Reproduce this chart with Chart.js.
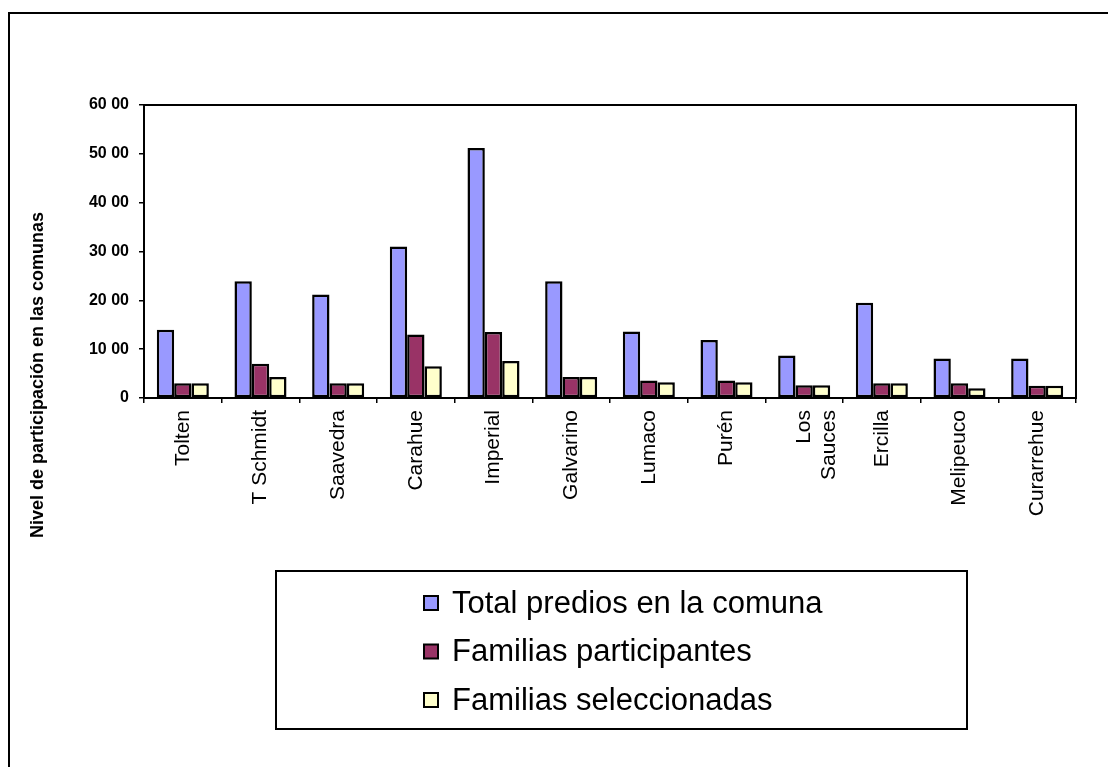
<!DOCTYPE html>
<html>
<head>
<meta charset="utf-8">
<script src="https://cdn.jsdelivr.net/npm/chart.js@4/dist/chart.umd.min.js"></script>
<style>
  html, body { margin: 0; padding: 0; background: #fff; }
  canvas { display: block; }
</style>
</head>
<body>
<canvas id="c" width="1108" height="767"></canvas>
<script>
const categories = ['Tolten', 'T Schmidt', 'Saavedra', 'Carahue', 'Imperial', 'Galvarino', 'Lumaco', 'Purén', ['Los', 'Sauces'], 'Ercilla', 'Melipeuco', 'Curarrehue'];
const seriesNames = ['Total predios en la comuna', 'Familias participantes', 'Familias seleccionadas'];
const totalPredios = [1400, 2390, 2120, 3100, 5120, 2390, 1360, 1190, 870, 1950, 810, 810];
const familiasParticipantes = [300, 700, 300, 1300, 1350, 430, 360, 360, 260, 300, 300, 250];
const familiasSeleccionadas = [300, 430, 300, 650, 760, 430, 320, 320, 260, 300, 200, 250];
const yTickLabels = ['0', '10 00', '20 00', '30 00', '40 00', '50 00', '60 00'];
const yTitle = 'Nivel de participación en las comunas';

const colors = ['#9999FF', '#993366', '#FFFFCC'];
const FONT = "'Liberation Sans', Arial, sans-serif";

const framePlugin = {
  id: 'frame',
  beforeDraw(chart) {
    const ctx = chart.ctx;
    ctx.save();
    ctx.fillStyle = '#fff';
    ctx.fillRect(0, 0, chart.width, chart.height);
    ctx.strokeStyle = '#000';
    ctx.lineWidth = 2;
    ctx.beginPath();
    ctx.moveTo(9, chart.height + 2);
    ctx.lineTo(9, 13);
    ctx.lineTo(chart.width + 2, 13);
    ctx.stroke();
    ctx.restore();
  },
  beforeDatasetsDraw(chart) {
    const a = chart.chartArea;
    const ctx = chart.ctx;
    ctx.save();
    ctx.strokeStyle = '#000';
    ctx.lineWidth = 2;
    ctx.strokeRect(a.left, a.top, a.right - a.left, a.bottom - a.top);
    ctx.restore();
  },
  afterDraw(chart) {
    const ctx = chart.ctx;
    ctx.save();
    // y axis title
    ctx.translate(38, 375);
    ctx.rotate(-Math.PI / 2);
    ctx.font = 'bold 18px ' + FONT;
    ctx.fillStyle = '#000';
    ctx.textAlign = 'center';
    ctx.textBaseline = 'middle';
    ctx.fillText(yTitle, 0, 0);
    ctx.restore();

    // legend box
    ctx.save();
    const bx = 276, by = 571, bw = 691, bh = 158;
    ctx.fillStyle = '#fff';
    ctx.fillRect(bx, by, bw, bh);
    ctx.strokeStyle = '#000';
    ctx.lineWidth = 2;
    ctx.strokeRect(bx, by, bw, bh);
    ctx.font = '31px ' + FONT;
    ctx.textBaseline = 'middle';
    ctx.textAlign = 'left';
    chart.data.datasets.forEach((ds, i) => {
      const cy = 603 + i * 48.5;
      ctx.fillStyle = ds.backgroundColor;
      ctx.fillRect(424, cy - 7, 14, 14);
      ctx.lineWidth = 2;
      ctx.strokeStyle = '#000';
      ctx.strokeRect(424, cy - 7, 14, 14);
      ctx.fillStyle = '#000';
      ctx.fillText(ds.label, 452, cy + 1);
    });
    ctx.restore();
  }
};

new Chart(document.getElementById('c'), {
  type: 'bar',
  data: {
    labels: categories,
    datasets: [
      { label: seriesNames[0], data: totalPredios, backgroundColor: colors[0] },
      { label: seriesNames[1], data: familiasParticipantes, backgroundColor: colors[1] },
      { label: seriesNames[2], data: familiasSeleccionadas, backgroundColor: colors[2] }
    ].map(d => Object.assign(d, {
      borderColor: '#000',
      borderWidth: 2.5,
      borderSkipped: false,
      categoryPercentage: 0.67,
      barPercentage: 1.0
    }))
  },
  options: {
    responsive: false,
    devicePixelRatio: 1,
    animation: false,
    layout: { padding: { top: 105, right: 32, left: 0, bottom: 0 } },
    plugins: {
      legend: { display: false },
      tooltip: { enabled: false },
      title: { display: false }
    },
    scales: {
      x: {
        offset: true,
        grid: { offset: true, drawOnChartArea: false, drawTicks: true, tickLength: 5, color: '#000', lineWidth: 1.5 },
        border: { display: true, color: '#000', width: 2 },
        ticks: {
          color: '#000',
          font: { family: FONT, size: 21 },
          minRotation: 90,
          maxRotation: 90,
          padding: 7,
          autoSkip: false
        },
        afterFit(scale) { scale.height = 369; }
      },
      y: {
        min: 0,
        max: 6000,
        grid: { drawOnChartArea: false, drawTicks: true, tickLength: 5, color: '#000', lineWidth: 1.5 },
        border: { display: true, color: '#000', width: 2 },
        ticks: {
          stepSize: 1000,
          color: '#000',
          padding: 10,
          font: { family: FONT, size: 16, weight: 'bold' },
          callback: (v, i) => yTickLabels[i]
        },
        afterFit(scale) { scale.width = 144; }
      }
    }
  },
  plugins: [framePlugin]
});
</script>
</body>
</html>
